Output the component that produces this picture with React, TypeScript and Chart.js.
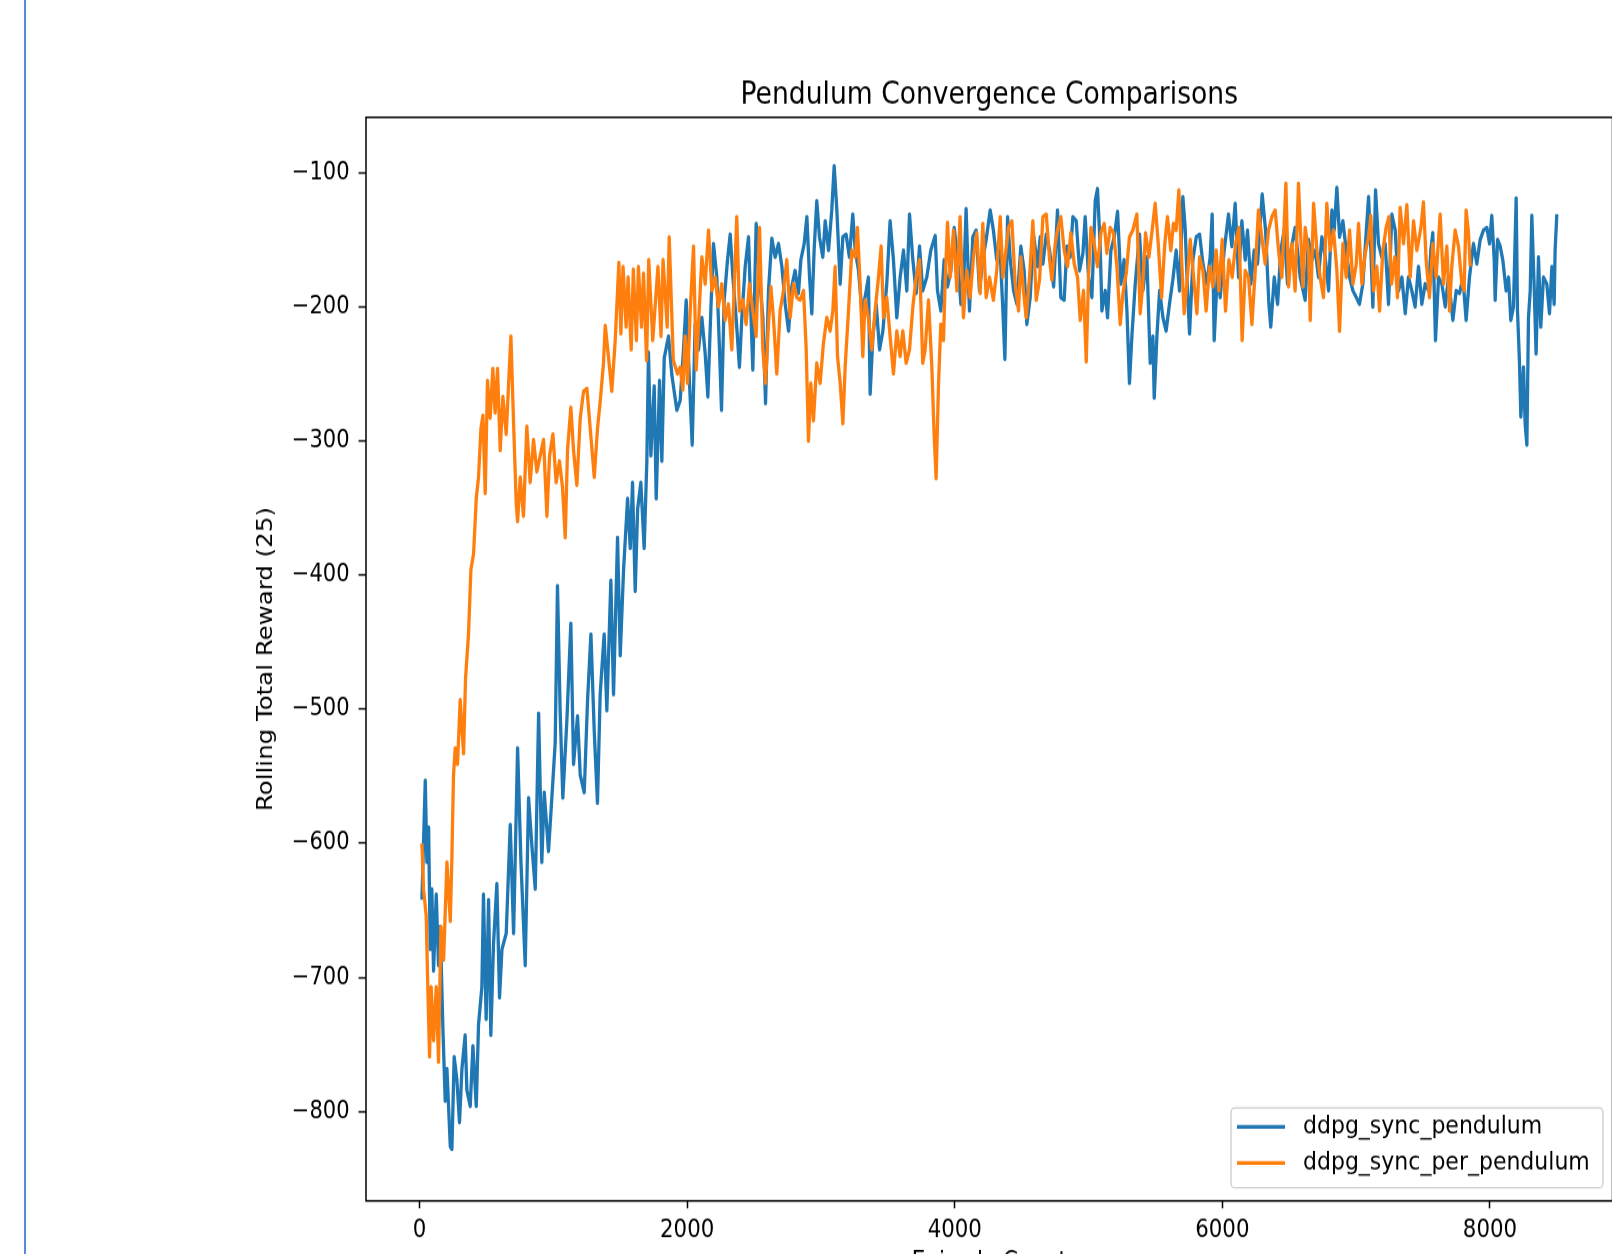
import React, { useEffect, useRef } from "react";
import { Chart, registerables } from "chart.js";

Chart.register(...registerables);

// ---------------- data ----------------
const chartTitle = "Pendulum Convergence Comparisons";
const xAxisTitle = "Episode Count";
const yAxisTitle = "Rolling Total Reward (25)";
const seriesLabels = ["ddpg_sync_pendulum", "ddpg_sync_per_pendulum"];
const seriesColors = ["#1f77b4", "#ff7f0e"];
const xTickValues = [0, 2000, 4000, 6000, 8000];
const yTickValues = [-100, -200, -300, -400, -500, -600, -700, -800];

const syncEpisodes = [
  18, 43, 55, 68, 80, 92, 105, 125, 142, 155, 175, 192, 205, 230, 242, 259, 279, 299, 317, 341,
  354, 379, 399, 424, 441, 466, 478, 498, 516, 533, 553, 578, 598, 616, 648, 678, 703, 733, 758, 790,
  815, 840, 865, 890, 914, 932, 964, 989, 1014, 1031, 1051, 1071, 1101, 1131, 1151, 1181, 1201, 1231, 1256, 1281,
  1306, 1330, 1350, 1380, 1400, 1430, 1450, 1480, 1500, 1525, 1555, 1575, 1592, 1612, 1630, 1654, 1679, 1699, 1711, 1729,
  1754, 1769, 1794, 1811, 1829, 1861, 1886, 1923,
  1948, 1973, 1993, 2018, 2038, 2060, 2085, 2110, 2135, 2155, 2177, 2197, 2222, 2242, 2257, 2277, 2302, 2322, 2342, 2366,
  2391, 2409, 2434, 2459, 2476, 2491, 2516, 2541, 2566, 2586, 2608, 2633, 2658, 2683, 2708, 2733, 2758, 2782, 2807, 2832,
  2850, 2875, 2895, 2915, 2932, 2949, 2969, 2989, 3014, 3032, 3057, 3081, 3099, 3119, 3144, 3164, 3188, 3213, 3238, 3256,
  3281, 3306, 3330, 3355, 3368, 3388, 3413, 3438, 3463, 3492, 3517, 3542, 3567, 3592, 3617, 3642, 3662, 3687, 3712, 3737,
  3761, 3791, 3821, 3854, 3871, 3896, 3921, 3946, 3971, 3996, 4021, 4046, 4070, 4085, 4110, 4135, 4160, 4185, 4210, 4235,
  4265, 4289, 4314, 4339,
  4360, 4375, 4395, 4415, 4440, 4465, 4494, 4519, 4539, 4564, 4589, 4619, 4639, 4659, 4684, 4709, 4739, 4768, 4793, 4818,
  4838, 4863, 4883, 4908, 4933, 4958, 4975, 5000, 5025, 5050, 5067, 5087, 5100, 5125, 5142, 5167, 5192, 5217, 5242, 5266,
  5287, 5306, 5324, 5349, 5381, 5406, 5436, 5461, 5481, 5491, 5511, 5531, 5556, 5580, 5605, 5630, 5655, 5680, 5705, 5722,
  5740, 5755, 5780, 5805, 5830, 5855, 5884, 5909, 5924, 5939, 5964, 5984, 6014, 6046, 6071, 6096, 6121, 6146, 6171, 6188,
  6213, 6238, 6263, 6298, 6323, 6348, 6362, 6388, 6413, 6437, 6462, 6487, 6512, 6544, 6569,
  6582, 6619, 6644, 6669, 6694, 6719, 6744, 6769, 6794, 6819, 6836, 6856, 6876, 6901, 6926, 6951, 6976, 7001, 7025, 7050,
  7075, 7093, 7110, 7125, 7145, 7167, 7192, 7217, 7242, 7267, 7292, 7317, 7342, 7367, 7391, 7416, 7441, 7466, 7491, 7516,
  7541, 7558, 7573, 7593, 7616, 7641, 7666, 7690, 7723, 7748, 7773, 7798, 7822, 7847, 7877, 7902, 7927, 7952, 7977, 7997,
  8014, 8032, 8039, 8057, 8077, 8096, 8121, 8139, 8156, 8176, 8196, 8206, 8221, 8231, 8251, 8263, 8276, 8288, 8301, 8313,
  8330, 8345, 8363, 8380, 8400, 8425, 8445, 8463, 8480, 8487, 8500,
];

const syncRewards = [
  -642, -553, -614, -588, -679, -634, -695, -638, -691, -662, -739, -792, -768, -826, -828, -759, -776, -808, -768, -743,
  -784, -796, -751, -796, -735, -707, -638, -731, -642, -743, -675, -630, -715, -679, -667, -586, -667, -529, -614, -691,
  -566, -602, -634, -503, -614, -562, -606, -566, -525, -408, -501, -566, -509, -436, -541, -505, -549, -562, -493, -444,
  -517, -570, -489, -444, -501, -404, -489, -372, -460, -396, -343, -380, -331, -412, -351, -331, -380, -315, -234, -311,
  -259, -343, -255, -315, -238, -222, -251, -277,
  -270, -232, -195, -257, -303, -213, -232, -208, -235, -267, -203, -153, -178, -232, -277, -195, -165, -146, -178, -208,
  -245, -208, -170, -148, -203, -247, -138, -178, -208, -272, -188, -149, -163, -153, -170, -198, -218, -185, -173, -190,
  -165, -153, -133, -178, -205, -158, -121, -148, -163, -136, -158, -128, -95, -128, -183, -148, -146, -163, -131, -158,
  -173, -203, -193, -178, -265, -223, -198, -232, -218, -183, -136, -165, -208, -178, -158, -188, -131, -165, -190, -155,
  -188, -178, -158, -147, -188, -203, -165, -185, -173, -141, -163, -198, -173, -127, -203, -148, -143, -188, -165, -150,
  -128, -143, -165, -158,
  -203, -239, -133, -165, -188, -198, -155, -173, -213, -193, -146, -170, -148, -168, -146, -158, -185, -128, -193, -195,
  -155, -163, -133, -136, -173, -160, -133, -178, -193, -121, -112, -155, -203, -188, -208, -158, -148, -129, -183, -165,
  -203, -257, -222, -183, -146, -188, -163, -242, -222, -268, -222, -188, -208, -218, -198, -180, -158, -188, -118, -141,
  -188, -220, -165, -148, -146, -168, -183, -163, -131, -225, -173, -193, -158, -131, -155, -123, -178, -136, -165, -143,
  -183, -158, -168, -116, -143, -198, -215, -178, -198, -158, -143, -183, -158, -141, -165,
  -178, -195, -150, -165, -158, -178, -148, -163, -188, -128, -143, -111, -148, -136, -158, -178, -188, -193, -198, -183,
  -145, -118, -158, -200, -113, -153, -163, -153, -198, -131, -143, -188, -178, -205, -178, -188, -200, -170, -198, -183,
  -188, -158, -145, -225, -178, -183, -200, -178, -210, -188, -190, -178, -210, -178, -153, -168, -150, -143, -141, -153,
  -132, -165, -195, -150, -155, -165, -188, -178, -210, -200, -119, -203, -242, -282, -245, -287, -303, -208, -188, -132,
  -183, -235, -163, -215, -178, -183, -205, -170, -198, -158, -131,
];

const perEpisodes = [
  18, 30, 50, 60, 75, 87, 105, 125, 142, 160, 180, 205, 230, 242, 254, 267, 284, 304, 329, 344,
  366, 384, 404, 424, 441, 459, 474, 491, 508, 528, 548, 565, 583, 603, 623, 648, 665, 683, 703, 723,
  733, 753, 777, 802, 827, 852, 877, 902, 927, 952, 972, 997, 1021, 1046, 1069, 1089, 1106, 1131, 1151, 1176,
  1201, 1226, 1251, 1276, 1306, 1330, 1350, 1375, 1388, 1413, 1437, 1462,
  1490, 1505, 1521, 1544, 1559, 1582, 1598, 1621, 1636, 1659, 1674, 1697, 1713, 1743, 1782, 1805, 1820, 1851, 1866, 1897,
  1928,
  1948, 1968, 1985, 2003, 2023, 2048, 2068, 2085, 2110, 2135, 2160, 2185, 2210, 2234, 2259, 2284, 2309, 2334, 2351, 2371,
  2391, 2416, 2441, 2466, 2491, 2516, 2541, 2566, 2586, 2608, 2626, 2645, 2670, 2695, 2720, 2745, 2770, 2795, 2820, 2845,
  2870, 2890, 2907, 2924, 2944, 2969, 2994, 3019, 3044, 3069, 3089, 3106, 3124, 3144, 3164, 3181, 3206, 3231, 3256, 3273,
  3293, 3313, 3330, 3355, 3380, 3405, 3430, 3450, 3468, 3492, 3517, 3542, 3567, 3592, 3612, 3637, 3662, 3687, 3712, 3737,
  3761, 3779, 3804, 3829, 3846, 3861, 3879, 3896, 3916, 3928, 3946, 3966, 3991, 4016, 4040, 4065, 4090, 4115, 4140, 4165,
  4190, 4210, 4235, 4260, 4289, 4314,
  4340, 4360, 4377, 4402, 4427, 4452, 4477, 4494, 4514, 4534, 4559, 4584, 4609, 4634, 4659, 4684, 4709, 4726, 4751, 4768,
  4793, 4818, 4843, 4868, 4893, 4918, 4938, 4963, 4983, 5000, 5018, 5042, 5067, 5092, 5117, 5137, 5162, 5187, 5212, 5237,
  5257, 5282, 5306, 5331, 5361, 5386, 5406, 5426, 5451, 5473, 5498, 5521, 5546, 5570, 5590, 5615, 5635, 5655, 5675, 5698,
  5715, 5735, 5760, 5785, 5810, 5830, 5855, 5879, 5904, 5929, 5954, 5974, 5999, 6024, 6049, 6074, 6099, 6124, 6148, 6171,
  6196, 6221, 6246, 6270, 6295, 6320, 6345, 6370, 6395, 6420, 6445, 6475, 6495, 6520, 6544, 6569,
  6602, 6619, 6644, 6657, 6682, 6707, 6731, 6756, 6781, 6806, 6831, 6856, 6876, 6901, 6926, 6951, 6976, 7001, 7018, 7043,
  7068, 7093, 7110, 7130, 7155, 7175, 7200, 7224, 7245, 7264, 7289, 7309, 7329, 7354, 7379, 7404, 7429, 7454, 7484, 7503,
  7523, 7548, 7573, 7598, 7628, 7653, 7678, 7698, 7715, 7740, 7765, 7790, 7807, 7822, 7840, 7852,
];

const perRewards = [
  -600, -634, -654, -699, -759, -707, -747, -707, -763, -662, -687, -614, -658, -610, -549, -529, -541, -493, -533, -477,
  -444, -396, -384, -343, -327, -291, -281, -339, -255, -283, -246, -279, -246, -307, -267, -295, -259, -222, -287, -347,
  -360, -327, -356, -289, -331, -299, -323, -311, -299, -356, -311, -295, -331, -315, -335, -372, -307, -275, -307, -333,
  -283, -263, -261, -291, -327, -291, -271, -242, -214, -238, -263, -226,
  -167, -220, -170, -215, -178, -232, -172, -225, -170, -215, -175, -240, -165, -225, -170, -222, -165, -215, -148, -240,
  -250,
  -245, -262, -222, -257, -203, -155, -247, -213, -163, -183, -143, -188, -178, -200, -183, -210, -198, -232, -188, -133,
  -203, -195, -213, -183, -203, -222, -141, -232, -257, -213, -185, -208, -250, -203, -188, -165, -208, -183, -193, -195,
  -188, -232, -300, -257, -285, -242, -257, -227, -208, -218, -203, -170, -237, -257, -287, -245, -203, -158, -163, -141,
  -183, -237, -195, -208, -232, -203, -178, -155, -208, -193, -222, -250, -218, -237, -218, -242, -232, -200, -178, -165,
  -242, -232, -195, -245, -295, -328, -257, -213, -225, -183, -137, -178, -143, -188, -133, -208, -173, -193, -163, -145,
  -190, -138, -193, -178, -195, -173,
  -133, -178, -163, -141, -136, -183, -203, -163, -188, -208, -178, -136, -195, -180, -133, -131, -165, -180, -153, -143,
  -133, -158, -170, -145, -168, -178, -210, -188, -241, -178, -141, -153, -170, -145, -138, -160, -141, -145, -170, -213,
  -190, -175, -148, -143, -131, -205, -183, -145, -163, -145, -123, -153, -193, -153, -133, -158, -138, -143, -113, -170,
  -205, -183, -150, -178, -205, -163, -173, -203, -170, -185, -158, -188, -150, -203, -165, -178, -153, -141, -225, -173,
  -178, -213, -173, -128, -148, -168, -143, -133, -128, -158, -178, -108, -185, -153, -188, -108,
  -185, -141, -158, -210, -123, -158, -178, -193, -123, -158, -143, -173, -218, -153, -178, -143, -183, -168, -138, -183,
  -160, -148, -132, -188, -170, -203, -158, -141, -133, -183, -163, -193, -126, -153, -124, -178, -136, -158, -141, -122,
  -165, -193, -153, -178, -131, -183, -155, -203, -170, -143, -155, -183, -188, -128, -145, -170,
];

// ---------------- layout constants ----------------
const STRETCH_Y = 1.165; // reference image is vertically stretched
const CANVAS_W = 1640;
const CANVAS_H = 1110;
const FONT = '"DejaVu Sans", "Liberation Sans", sans-serif';
const LINE_W = 3.3;

const toPoints = (xs: number[], ys: number[]) => xs.map((x, i) => ({ x, y: ys[i] }));

const framePlugin = {
  id: "mplFrame",
  afterDatasetsDraw(chart: any) {
    const { ctx, chartArea } = chart;
    const { left, top, right, bottom } = chartArea;
    ctx.save();
    ctx.strokeStyle = "#000";
    ctx.lineWidth = 1.5;
    ctx.strokeRect(left, top, right - left, bottom - top);
    ctx.restore();
  },
};

const legendPlugin = {
  id: "mplLegend",
  afterDraw(chart: any) {
    const { ctx, chartArea } = chart;
    const w = 372;
    const h = 68.6;
    const x0 = chartArea.right - 9.5 - w;
    const y0 = chartArea.bottom - 11.2 - h;
    ctx.save();
    ctx.beginPath();
    if (ctx.roundRect) ctx.roundRect(x0, y0, w, h, 4);
    else ctx.rect(x0, y0, w, h);
    ctx.fillStyle = "rgba(255,255,255,0.8)";
    ctx.fill();
    ctx.strokeStyle = "#cccccc";
    ctx.lineWidth = 1.3;
    ctx.stroke();
    const rowY = [y0 + 16.3, y0 + 47.2];
    ctx.font = `22px ${FONT}`;
    ctx.textBaseline = "middle";
    ctx.textAlign = "left";
    seriesLabels.forEach((label, i) => {
      ctx.beginPath();
      ctx.strokeStyle = seriesColors[i];
      ctx.lineWidth = LINE_W;
      ctx.moveTo(x0 + 6, rowY[i]);
      ctx.lineTo(x0 + 54, rowY[i]);
      ctx.stroke();
      ctx.fillStyle = "#000";
      ctx.fillText(label, x0 + 72, rowY[i]);
    });
    ctx.restore();
  },
};

export default function App() {
  const canvasRef = useRef<HTMLCanvasElement | null>(null);

  useEffect(() => {
    const canvas = canvasRef.current;
    if (!canvas) return;
    Chart.defaults.font.family = FONT;
    Chart.defaults.color = "#000";

    const chart = new Chart(canvas, {
      type: "line",
      data: {
        datasets: [
          {
            label: seriesLabels[0],
            data: toPoints(syncEpisodes, syncRewards),
            borderColor: seriesColors[0],
            backgroundColor: seriesColors[0],
            borderWidth: LINE_W,
            pointRadius: 0,
            tension: 0,
            fill: false,
            borderJoinStyle: "round",
            order: 1,
          },
          {
            label: seriesLabels[1],
            data: toPoints(perEpisodes, perRewards),
            borderColor: seriesColors[1],
            backgroundColor: seriesColors[1],
            borderWidth: LINE_W,
            pointRadius: 0,
            tension: 0,
            fill: false,
            borderJoinStyle: "round",
            order: 0,
          },
        ],
      },
      options: {
        animation: false,
        responsive: false,
        devicePixelRatio: 1,
        events: [],
        layout: { padding: { left: 240, right: 27.5, top: 0, bottom: 13.8 } },
        plugins: {
          legend: { display: false },
          tooltip: { enabled: false },
          title: {
            display: true,
            text: chartTitle,
            fullSize: false,
            color: "#000",
            font: { size: 26.6, weight: "normal", family: FONT },
            padding: { top: 66.2, bottom: 2.6 },
          },
        },
        scales: {
          x: {
            type: "linear",
            min: -400,
            max: 8916,
            afterBuildTicks: (scale: any) => {
              scale.ticks = xTickValues.map((v) => ({ value: v }));
            },
            afterFit: (scale: any) => {
              scale.height = 65.3;
            },
            border: { display: false },
            grid: {
              display: true,
              drawOnChartArea: false,
              drawTicks: true,
              tickLength: 6.4,
              tickWidth: 1.5,
              tickColor: "#000",
            },
            ticks: {
              autoSkip: false,
              maxRotation: 0,
              minRotation: 0,
              padding: 6.7,
              color: "#000",
              font: { size: 21.3, family: FONT },
              callback: (v: any) => String(v),
            },
            title: {
              display: true,
              text: xAxisTitle,
              color: "#000",
              font: { size: 21.5, family: FONT },
              padding: { top: 0, bottom: 0 },
            },
          },
          y: {
            type: "linear",
            min: -866.5,
            max: -58.8,
            afterBuildTicks: (scale: any) => {
              scale.ticks = yTickValues.map((v) => ({ value: v }));
            },
            afterFit: (scale: any) => {
              scale.width = 126;
            },
            border: { display: false },
            grid: {
              display: true,
              drawOnChartArea: false,
              drawTicks: true,
              tickLength: 7.5,
              tickWidth: 1.5,
              tickColor: "#000",
            },
            ticks: {
              autoSkip: false,
              padding: 9,
              color: "#000",
              font: { size: 21, family: FONT },
              callback: (v: any) => (v < 0 ? "\u2212" + Math.abs(v) : String(v)),
            },
            title: {
              display: true,
              text: yAxisTitle,
              color: "#000",
              font: { size: 21, family: FONT },
              padding: { top: 13.9, bottom: 0 },
            },
          },
        },
      },
      plugins: [framePlugin, legendPlugin],
    } as any);

    return () => {
      chart.destroy();
    };
  }, []);

  return (
    <div
      style={{
        position: "absolute",
        left: 0,
        top: 0,
        width: 1612,
        height: 1254,
        overflow: "hidden",
        background: "#ffffff",
      }}
    >
      <div
        style={{
          position: "absolute",
          left: 24,
          top: 0,
          width: 2,
          height: 1254,
          background: "#5b8bd3",
        }}
      />
      <canvas
        ref={canvasRef}
        width={CANVAS_W}
        height={CANVAS_H}
        style={{
          position: "absolute",
          left: 0,
          top: 0,
          width: `${CANVAS_W}px`,
          height: `${CANVAS_H * STRETCH_Y}px`,
          display: "block",
        }}
      />
    </div>
  );
}
